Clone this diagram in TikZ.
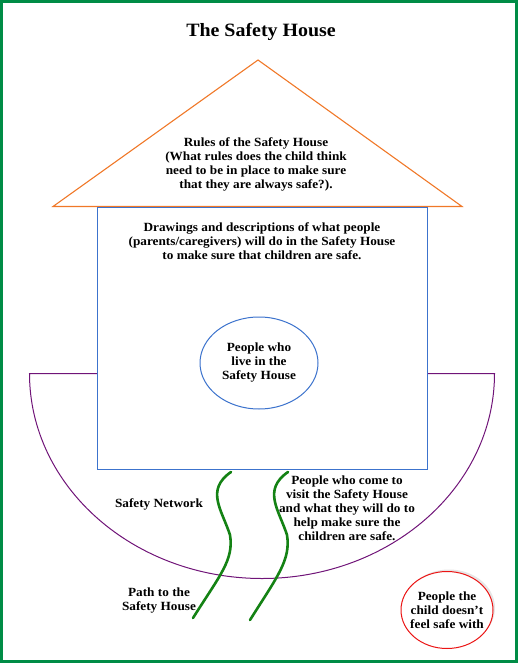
\documentclass[tikz,border=0pt]{standalone}
\usepackage{fontspec}
\setmainfont{Liberation Serif}[FakeStretch=1.06]
\usetikzlibrary{shapes.geometric,shadows}
\definecolor{frame}{RGB}{0,140,70}
\definecolor{roof}{RGB}{240,120,40}
\definecolor{wallblue}{RGB}{60,115,205}
\definecolor{net}{RGB}{112,20,120}
\definecolor{pathg}{RGB}{20,130,20}
\definecolor{danger}{RGB}{235,20,20}
\tikzset{
  lbl/.style={font=\bfseries\fontsize{12.5}{14}\selectfont, align=center, inner sep=0pt},
  pathline/.style={draw=pathg, line width=2.6pt, line cap=round},
}
\begin{document}
\begin{tikzpicture}[x=1pt,y=-1pt]
\useasboundingbox (0,0) rectangle (518,663);
\draw[frame, line width=3pt] (1.5,1.5) rectangle (516.5,661.5);
\node[font=\bfseries\fontsize{18.8}{20}\selectfont, inner sep=0pt] (title) at (261,32) {The Safety House};
% roof
\coordinate (apex) at (258,60);
\coordinate (rl) at (53,206.5);
\coordinate (rr) at (462,206.5);
\draw[roof, line width=1.1pt, line join=miter] (apex) -- (rl) -- (rr) -- cycle;
\node[lbl] (rules) at (256,164) {Rules of the Safety House\\(What rules does the child think\\need to be in place to make sure\\that they are always safe?).};
% network arc
\coordinate (nl) at (29.5,373.5);
\coordinate (nr) at (494.5,373.5);
\draw[net, line width=1pt] (97.5,373.5) -- (nl) arc[start angle=180, end angle=0, x radius=232.5, y radius=205] -- (427.5,373.5);
% house
\coordinate (h1) at (97.5,207.5);
\coordinate (h2) at (427.5,469.5);
\draw[wallblue, line width=1.6pt, fill=white] (h1) rectangle (h2);
\node[lbl] (desc) at (262,241) {Drawings and descriptions of what people\\(parents/caregivers) will do in the Safety House\\to make sure that children are safe.};
\node[draw=wallblue, line width=1pt, ellipse, minimum width=118, minimum height=92, inner sep=0pt] (live) at (259,363) {};
\node[lbl] at (live.center) {People who\\live in the\\Safety House};
% path
\coordinate (a1) at (231,472);
\coordinate (a2) at (193,618);
\draw[pathline] (a1) .. controls (205,490) and (222,510) .. (230,535) .. controls (234,560) and (220,575) .. (a2);
\coordinate (b1) at (288,472);
\coordinate (b2) at (250,620);
\draw[pathline] (b1) .. controls (262,490) and (279,510) .. (287,535) .. controls (291,560) and (277,577) .. (b2);
\node[lbl] (sn) at (159,504) {Safety Network};
\node[lbl] (visit) at (347,508) {People who come to\\visit the Safety House\\and what they will do to\\help make sure the\\children are safe.};
\node[lbl] (pth) at (159,601) {Path to the\\Safety House};
% danger
\node[draw=danger, line width=1pt, ellipse, minimum width=92, minimum height=77, inner sep=0pt, fill=white,
      drop shadow={opacity=0.2, shadow xshift=2pt, shadow yshift=2pt}] (bad) at (447,610) {};
\node[lbl] at (bad.center) {People the\\child doesn't\\feel safe with};
\end{tikzpicture}
\end{document}
